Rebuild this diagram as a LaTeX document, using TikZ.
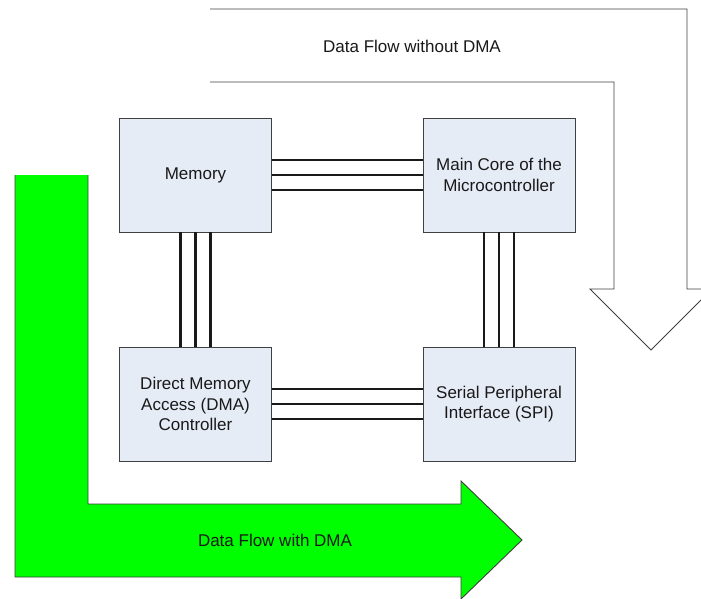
\documentclass[tikz,border=0pt]{standalone}
\usepackage{fontspec}
\setmainfont{Liberation Sans}
\definecolor{boxfill}{RGB}{230,236,246}
\definecolor{boxedge}{RGB}{64,64,64}
\definecolor{flowgreen}{RGB}{0,255,0}
\begin{document}
\begin{tikzpicture}[x=1pt,y=-1pt,
  blk/.style={draw=boxedge, fill=boxfill, line width=0.9pt, minimum width=152pt, minimum height=114pt,
    align=center, inner sep=0pt, font=\fontsize{17}{20.5}\selectfont, text=black!90},
  bus/.style={line width=2.2pt, draw=black!90},
  lbl/.style={font=\fontsize{17}{20.5}\selectfont, text=black!90, inner sep=0pt},
  flowedge/.style={draw=boxedge, line width=0.9pt, line join=miter}]
\clip (0,0) rectangle (701,599);
% arrow: data flow without DMA (open at the left end)
\path[fill=white] (210,9) -- (687,9) -- (687,289) -- (712,289) -- (651,350) -- (590,289) -- (614,289) -- (614,82) -- (210,82) -- cycle;
\draw[flowedge] (210,9) -- (687,9) -- (687,289) -- (712,289) -- (651,350) -- (590,289) -- (614,289) -- (614,82) -- (210,82);
% arrow: data flow with DMA (open at the top end)
\path[fill=flowgreen] (88,175) -- (15,175) -- (15,577) -- (461,577) -- (461,599) -- (522,540) -- (461,481) -- (461,504) -- (88,504) -- cycle;
\draw[flowedge] (15,175) -- (15,577) -- (461,577) -- (461,599) -- (522,540) -- (461,481) -- (461,504) -- (88,504) -- (88,175);
\node[lbl] (lnodma) at (412,46) {Data Flow without DMA};
\node[lbl] (ldma) at (275,540) {Data Flow with DMA};
% blocks
\node[blk] (mem) at (195.5,175) {Memory};
\node[blk] (core) at (499,175) {Main Core of the\\Microcontroller};
\node[blk] (dma) at (195.5,404) {Direct Memory\\Access (DMA)\\Controller};
\node[blk] (spi) at (499,404) {Serial Peripheral\\Interface (SPI)};
% buses
\foreach \d in {15,0,-15}{
  \draw[bus] ([yshift=\d pt]mem.east) -- ([yshift=\d pt]core.west);
  \draw[bus] ([yshift=\d pt]dma.east) -- ([yshift=\d pt]spi.west);
  \draw[bus] ([xshift=\d pt]mem.south) -- ([xshift=\d pt]dma.north);
  \draw[bus] ([xshift=\d pt]core.south) -- ([xshift=\d pt]spi.north);
}
\end{tikzpicture}
\end{document}
